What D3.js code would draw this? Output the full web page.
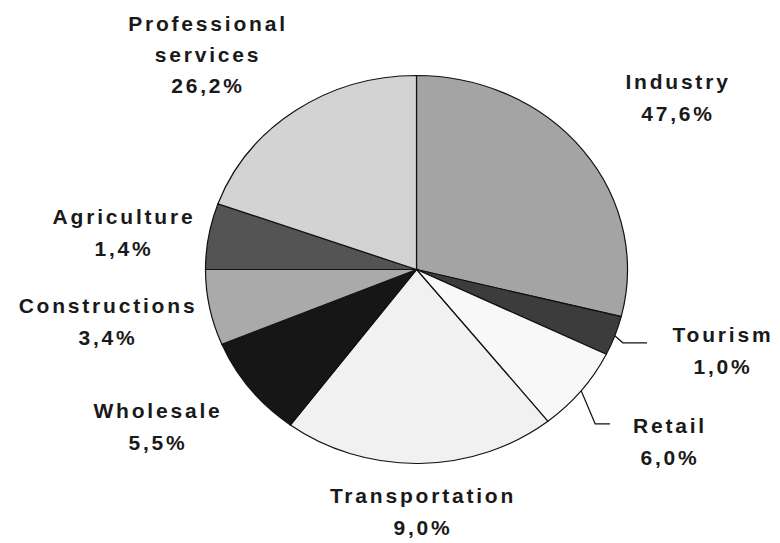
<!DOCTYPE html>
<html>
<head>
<meta charset="utf-8">
<script src="https://cdn.jsdelivr.net/npm/d3@7"></script>
<style>
  body { margin: 0; background: #fff; }
  svg { display: block; }
  .lbl { font-family: "Liberation Sans", Arial, sans-serif; font-weight: bold; font-size: 21px; letter-spacing: 2.8px; fill: #1a1a1a; }
</style>
</head>
<body>
<div id="chart"></div>
<script>
// sectors in drawing order (clockwise from 12 o'clock)
const sectors = ["Industry", "Tourism", "Retail", "Transportation", "Wholesale", "Constructions", "Agriculture", "Professional services"];
// slice sizes as they are drawn in the picture (not the printed labels)
const shares = [28.9, 3.3, 7.1, 20.9, 8.5, 6.3, 5.5, 19.5];
// printed percentages
const percentLabels = ["47,6%", "1,0%", "6,0%", "9,0%", "5,5%", "3,4%", "1,4%", "26,2%"];
const nameLines = [["Industry"], ["Tourism"], ["Retail"], ["Transportation"], ["Wholesale"], ["Constructions"], ["Agriculture"], ["Professional", "services"]];
const fills = ["#a4a4a4", "#3c3c3c", "#f8f8f8", "#f1f1f1", "#161616", "#aaaaaa", "#545454", "#d3d3d3"];

// layout
const width = 780, height = 543;
const cx = 416.5, cy = 269.5, rx = 211, ry = 194;
const labelPos = [[678, 89], [723, 342], [670, 433], [423, 503], [158, 418], [108, 313], [124, 224], [208, 31]];
const lineGap = 32;
// elbow offsets for leader lines (index -> [dx to elbow, dy to elbow, end x])
const leaders = { 1: [8, 7, 647], 2: [14, 33, 610] };

const svg = d3.select("#chart").append("svg")
    .attr("width", width)
    .attr("height", height);

const pie = d3.pie().sort(null).value(d => d)(shares);
const arc = d3.arc().innerRadius(0).outerRadius(rx);

svg.append("g")
    .attr("transform", `translate(${cx},${cy}) scale(1,${ry / rx})`)
    .selectAll("path")
    .data(pie)
    .join("path")
    .attr("d", arc)
    .attr("fill", (d, i) => fills[i])
    .attr("stroke", "#111")
    .attr("stroke-width", 1.2)
    .attr("vector-effect", "non-scaling-stroke");

// leader lines from the rim
Object.keys(leaders).forEach(k => {
    const d = pie[k];
    const a = (d.startAngle + d.endAngle) / 2;
    const x0 = cx + rx * Math.sin(a), y0 = cy - ry * Math.cos(a);
    const [dx, dy, xe] = leaders[k];
    svg.append("path")
        .attr("d", d3.line()([[x0, y0], [x0 + dx, y0 + dy], [xe, y0 + dy]]))
        .attr("fill", "none")
        .attr("stroke", "#111")
        .attr("stroke-width", 1.2);
});

// labels
sectors.forEach((s, i) => {
    const lines = nameLines[i].concat([percentLabels[i]]);
    const t = svg.append("text")
        .attr("class", "lbl")
        .attr("text-anchor", "middle");
    lines.forEach((ln, j) => {
        t.append("tspan")
            .attr("x", labelPos[i][0])
            .attr("y", labelPos[i][1] + j * (i === 7 ? 31 : lineGap))
            .text(ln);
    });
});
</script>
</body>
</html>
